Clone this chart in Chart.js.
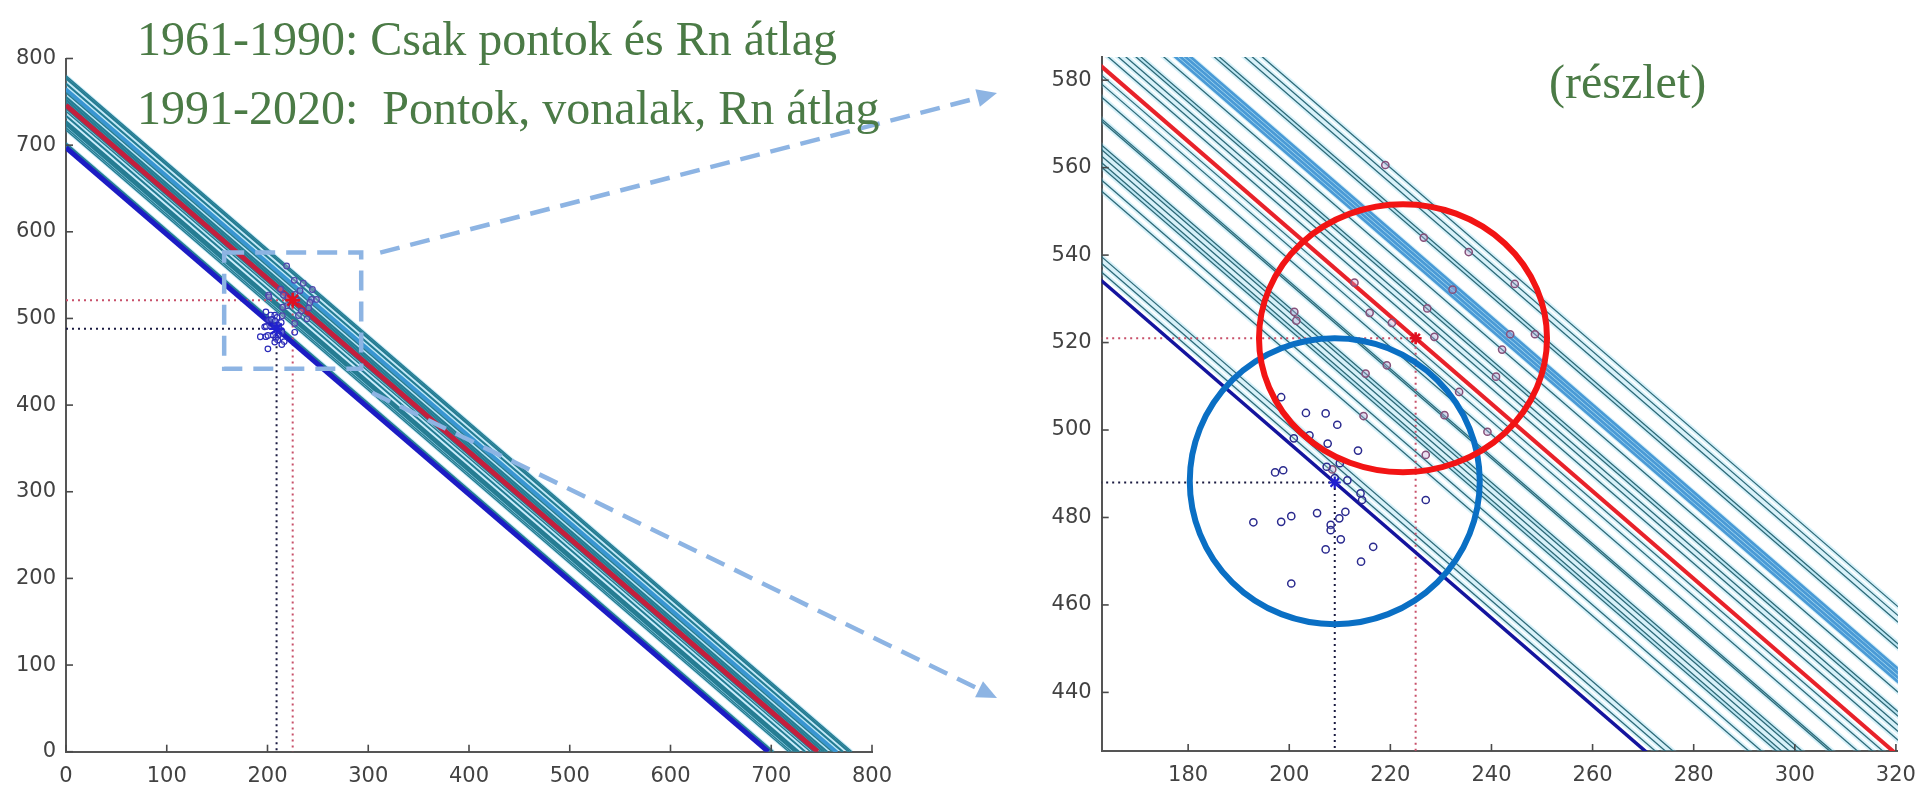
<!DOCTYPE html>
<html><head><meta charset="utf-8">
<script src="https://cdn.jsdelivr.net/npm/chart.js@4.4.1/dist/chart.umd.min.js"></script>
<style>
html,body{margin:0;padding:0;background:#fff;width:1928px;height:790px;overflow:hidden;}
#c1{position:absolute;left:0;top:0;}
#c2{position:absolute;left:1000px;top:0;}
.t{position:absolute;font-family:"Liberation Serif","Times New Roman",serif;color:#4b7b46;font-size:48px;white-space:pre;line-height:1;}
</style></head><body>
<canvas id="c1" width="1000" height="790"></canvas>
<canvas id="c2" width="928" height="790"></canvas>
<div class="t" style="left:137px;top:15px;">1961-1990: Csak pontok és Rn átlag</div>
<div class="t" style="left:137px;top:84px;">1991-2020:  Pontok, vonalak, Rn átlag</div>
<div class="t" style="left:1549px;top:58px;">(részlet)</div>
<script>
// ================= DATA =================
// Tick labels
const leftTicks = [0, 100, 200, 300, 400, 500, 600, 700, 800];
const detailXTicks = [180, 200, 220, 240, 260, 280, 300, 320];
const detailYTicks = [440, 460, 480, 500, 520, 540, 560, 580];
// Axis ranges of the detail plot
const detailXRange = [162.9, 320.4];
const detailYRange = [426.6, 585.3];
// Zoom box drawn on the overview (data units)
const zoomBoxX = [157, 293];
const zoomBoxY = [442, 576];
// Highlight circle centres on the detail plot (data units)
const blueCircleCentre = [209, 488.3];
const redCircleCentre = [222.5, 521];

// Rn means (x + y = const)
const rnMean6190 = 697;
const rnMean9120 = 746;
// Mean points [x, y]
const mean6190 = [209, 488];
const mean9120 = [225, 521];

// Yearly Rn lines 1991-2020 (x + y = Rn)
const rnLines9120 = [699, 701, 702.5, 717.5, 720, 723, 724, 725.5, 727, 728,
  733.5, 734, 739, 742, 744, 749.5, 751.5, 753, 755, 756,
  760.5, 762.8, 763.8, 764.8, 765.8, 770.5, 771.5, 776.5, 778, 780];

// Yearly points 1961-1990
const pts6190X = [192.9, 198.4, 200.4, 200.4, 203.3, 207.2, 209.5, 200.9, 204.0, 207.6,
  213.6, 198.4, 197.2, 198.8, 207.4, 210.0, 214.1, 214.4, 211.1, 209.9,
  208.2, 208.2, 210.2, 207.2, 216.6, 214.2, 227.0, 209.0, 211.5, 205.5];
const pts6190Y = [478.9, 479.0, 480.3, 464.9, 503.9, 503.8, 501.2, 498.1, 498.8, 496.9,
  495.3, 507.5, 490.3, 490.8, 491.6, 492.4, 485.5, 484.0, 481.3, 479.8,
  478.3, 477.1, 475.0, 472.7, 473.3, 469.9, 484.0, 489.0, 488.5, 481.0];

// Yearly points 1991-2020
const pts9120X = [219.0, 226.6, 235.5, 232.3, 212.9, 227.3, 215.9, 201.0, 201.4, 220.3,
  228.7, 219.3, 215.1, 233.6, 244.6, 243.7, 248.6, 242.1, 240.9, 239.2,
  214.7, 230.7, 227.0, 208.5];
const pts9120Y = [560.6, 544.0, 540.7, 532.1, 533.7, 527.8, 526.8, 527.0, 525.0, 524.5,
  521.3, 514.8, 512.9, 508.7, 533.4, 521.9, 521.9, 518.4, 512.2, 499.6,
  503.2, 503.4, 494.3, 491.0];

// ================= BUILD =================
const toPts = (xs, ys) => xs.map((v, i) => ({x: v, y: ys[i]}));
const rnLine = c => [{x: 0, y: c}, {x: c, y: 0}];
const cross = m => [{x: 0, y: m[1]}, {x: m[0], y: m[1]}, {x: m[0], y: 0}];

const styles = {
  left: {teal: '#257c92', tealW: 1.5, halo: 'rgba(90,195,235,0.28)', haloW: 3.5, band: '#3a96d2', bandW: 2,
    red: '#c41f3d', redW: 5, blue: '#1c1cc4', blueW: 5, ptR: 2.8, ptW: 1.2,
    ptBlue: '#2a2ab8', ptRed: '#4f46ad', starR: 7.5},
  right: {teal: '#2d6a78', tealW: 1.3, halo: 'rgba(110,205,235,0.28)', haloW: 5, band: '#4a9ad6', bandW: 2.8,
    red: '#e8222a', redW: 4, blue: '#14149e', blueW: 3.5, ptR: 3.6, ptW: 1.5,
    ptBlue: '#2b2b8f', ptRed: '#86507a', starR: 6}
};

function buildDatasets(s) {
  const ds = [];
  rnLines9120.forEach(c => {
    ds.push({data: rnLine(c), showLine: true, borderColor: s.halo, borderWidth: s.haloW,
      pointRadius: 0, order: 50});
    const isBand = c >= 762 && c <= 767;
    ds.push({data: rnLine(c), showLine: true, borderColor: isBand ? s.band : s.teal,
      borderWidth: isBand ? s.bandW : s.tealW, pointRadius: 0, order: isBand ? 41 : 40});
  });
  ds.push({data: cross(mean6190), showLine: true, borderColor: '#1a1a40', borderWidth: 2,
    borderDash: [2, 4], pointRadius: 0, order: 30});
  ds.push({data: cross(mean9120), showLine: true, borderColor: '#c8506a', borderWidth: 2,
    borderDash: [2, 4], pointRadius: 0, order: 30});
  ds.push({data: rnLine(rnMean6190), showLine: true, borderColor: s.blue, borderWidth: s.blueW,
    pointRadius: 0, order: 20});
  ds.push({data: rnLine(rnMean9120), showLine: true, borderColor: s.red, borderWidth: s.redW,
    pointRadius: 0, order: 20});
  ds.push({data: toPts(pts6190X, pts6190Y), showLine: false, pointRadius: s.ptR,
    pointBorderWidth: s.ptW, pointBorderColor: s.ptBlue, pointBackgroundColor: 'rgba(255,255,255,0.2)', order: 10});
  ds.push({data: toPts(pts9120X, pts9120Y), showLine: false, pointRadius: s.ptR,
    pointBorderWidth: s.ptW, pointBorderColor: s.ptRed, pointBackgroundColor: 'rgba(200,170,215,0.35)', order: 10});
  ds.push({data: [{x: mean6190[0], y: mean6190[1]}], showLine: false, pointStyle: 'star',
    pointRadius: s.starR, pointBorderWidth: 2.2, pointBorderColor: '#2020d0', order: 5});
  ds.push({data: [{x: mean9120[0], y: mean9120[1]}], showLine: false, pointStyle: 'star',
    pointRadius: s.starR, pointBorderWidth: 2.6, pointBorderColor: '#e01020', order: 5});
  return ds;
}

const inwardTicks = {
  id: 'inwardTicks',
  afterDatasetsDraw(chart) {
    const {ctx, chartArea: a, scales: {x, y}} = chart;
    ctx.save();
    ctx.strokeStyle = '#4a4a4a';
    ctx.lineWidth = 1.6;
    x.ticks.forEach(t => {
      const p = x.getPixelForValue(t.value);
      ctx.beginPath(); ctx.moveTo(p, a.bottom); ctx.lineTo(p, a.bottom - 7); ctx.stroke();
    });
    y.ticks.forEach(t => {
      const p = y.getPixelForValue(t.value);
      ctx.beginPath(); ctx.moveTo(a.left, p); ctx.lineTo(a.left + 7, p); ctx.stroke();
    });
    ctx.restore();
  }
};

function drawArrow(ctx, x0, y0, x1, y1) {
  const ang = Math.atan2(y1 - y0, x1 - x0);
  const hl = 20, hw = 9;
  const bx = x1 - hl * Math.cos(ang), by = y1 - hl * Math.sin(ang);
  ctx.beginPath(); ctx.moveTo(x0, y0); ctx.lineTo(bx, by); ctx.stroke();
  ctx.save(); ctx.setLineDash([]);
  ctx.beginPath();
  ctx.moveTo(x1, y1);
  ctx.lineTo(bx + hw * Math.sin(ang), by - hw * Math.cos(ang));
  ctx.lineTo(bx - hw * Math.sin(ang), by + hw * Math.cos(ang));
  ctx.closePath(); ctx.fill();
  ctx.restore();
}

const zoomBoxPlugin = {
  id: 'zoomBox',
  afterDraw(chart) {
    const {ctx, scales: {x, y}} = chart;
    const l = x.getPixelForValue(zoomBoxX[0]), r = x.getPixelForValue(zoomBoxX[1]);
    const t = y.getPixelForValue(zoomBoxY[1]), b = y.getPixelForValue(zoomBoxY[0]);
    ctx.save();
    ctx.strokeStyle = '#8db4e3'; ctx.fillStyle = '#8db4e3';
    ctx.lineWidth = 4.5; ctx.setLineDash([20, 11]);
    ctx.strokeRect(l, t, r - l, b - t);
    drawArrow(ctx, r + 19, t, 997, 93);
    drawArrow(ctx, r + 11, b + 24, 997, 698);
    ctx.restore();
  }
};

const circlesPlugin = {
  id: 'circles',
  afterDraw(chart) {
    const {ctx, scales: {x, y}} = chart;
    ctx.save();
    ctx.lineWidth = 6;
    ctx.strokeStyle = '#0a6fc4';
    ctx.beginPath();
    ctx.ellipse(x.getPixelForValue(blueCircleCentre[0]), y.getPixelForValue(blueCircleCentre[1]), 145, 143, 0, 0, Math.PI * 2);
    ctx.stroke();
    ctx.strokeStyle = '#f21414';
    ctx.beginPath();
    ctx.ellipse(x.getPixelForValue(redCircleCentre[0]), y.getPixelForValue(redCircleCentre[1]), 144, 134, 0, 0, Math.PI * 2);
    ctx.stroke();
    ctx.restore();
  }
};

const tickFont = {family: '"DejaVu Sans", Verdana, sans-serif', size: 21};

function axis(min, max, tickVals, isX, fitSize) {
  return {
    type: 'linear', min, max,
    afterBuildTicks: sc => { sc.ticks = tickVals.map(v => ({value: v})); },
    ticks: {color: '#424242', font: tickFont, padding: isX ? 12 : 10, maxRotation: 0, autoSkip: false, includeBounds: false},
    grid: {display: false, drawTicks: false},
    border: {display: true, color: '#555', width: 2},
    afterFit: sc => { if (isX) sc.height = fitSize; else sc.width = fitSize; }
  };
}

new Chart(document.getElementById('c1'), {
  type: 'scatter',
  data: {datasets: buildDatasets(styles.left)},
  options: {
    responsive: false, animation: false, devicePixelRatio: 1,
    layout: {padding: {top: 58.5, right: 128, left: 0, bottom: 0}},
    plugins: {legend: {display: false}, tooltip: {enabled: false}},
    elements: {line: {tension: 0}},
    scales: {
      x: axis(0, 800, leftTicks, true, 38.3),
      y: axis(0, 800, leftTicks, false, 66)
    }
  },
  plugins: [inwardTicks, zoomBoxPlugin]
});

new Chart(document.getElementById('c2'), {
  type: 'scatter',
  data: {datasets: buildDatasets(styles.right)},
  options: {
    responsive: false, animation: false, devicePixelRatio: 1,
    layout: {padding: {top: 57, right: 21, left: 0, bottom: 0}},
    plugins: {legend: {display: false}, tooltip: {enabled: false}},
    elements: {line: {tension: 0}},
    scales: {
      x: axis(detailXRange[0], detailXRange[1], detailXTicks, true, 39),
      y: axis(detailYRange[0], detailYRange[1], detailYTicks, false, 101.7)
    }
  },
  plugins: [inwardTicks, circlesPlugin]
});
</script>
</body></html>
